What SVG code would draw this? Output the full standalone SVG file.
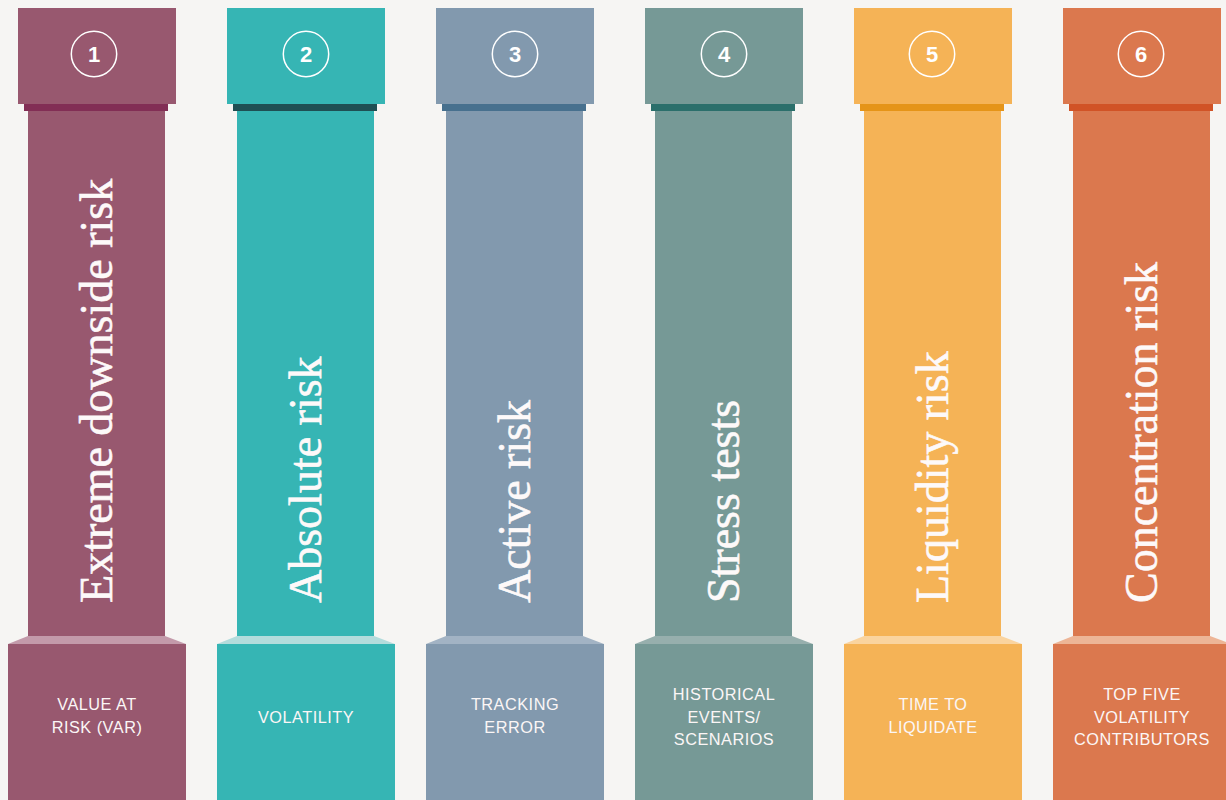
<svg xmlns="http://www.w3.org/2000/svg" width="1226" height="800" viewBox="0 0 1226 800">
  <style>
    .title { font-family: "Liberation Serif", "Times New Roman", serif; font-size: 46px; fill: #fdf9f9; stroke: #fdf9f9; stroke-width: 0.6px; }
    .num { font-family: "Liberation Sans", Arial, sans-serif; font-size: 22px; font-weight: bold; fill: #ffffff; text-anchor: middle; }
    .ring { fill: none; stroke: #ffffff; stroke-width: 1.5; }
    .label { font-family: "Liberation Sans", Arial, sans-serif; font-size: 16.3px; letter-spacing: 0.5px; fill: #fbf6f6; text-anchor: middle; }

    .main { fill: var(--main); }
    .band { fill: var(--band); }
    .ledge { fill: var(--ledge); }

    .p1 { --main: #98586f; --band: #822e55; --ledge: #c39aaa; }
    .p2 { --main: #36b5b4; --band: #1f4f53; --ledge: #b3dcdc; }
    .p3 { --main: #8299ae; --band: #47708e; --ledge: #a2b3c4; }
    .p4 { --main: #769996; --band: #2b6f6b; --ledge: #97afad; }
    .p5 { --main: #f5b356; --band: #e59418; --ledge: #fad49f; }
    .p6 { --main: #db784e; --band: #d15326; --ledge: #edb596; }
  </style>
  <defs>
    <!-- one pillar: capital, collar, shaft, sloped ledge and plinth -->
    <g id="pillar-shape">
      <rect class="main" x="18" y="8" width="158" height="96"/>
      <rect class="band" x="24" y="104" width="144" height="7"/>
      <rect class="main" x="28" y="111" width="137" height="525"/>
      <polygon class="ledge" points="28,636 165,636 186,644 8,644"/>
      <rect class="main" x="8" y="644" width="178" height="156"/>
    </g>
  </defs>

  <rect width="1226" height="800" fill="#f6f5f3"/>

  <g id="pillar-1" class="p1">
    <use href="#pillar-shape"/>
    <circle class="ring" cx="94" cy="54" r="22.7"/>
    <text class="num" x="94" y="62">1</text>
    <text class="title" transform="translate(111.5,603) rotate(-90)">Extreme downside risk</text>
    <text class="label" x="97" y="710">VALUE AT</text>
    <text class="label" x="97" y="732.5">RISK (VAR)</text>
  </g>

  <g id="pillar-2" class="p2" transform="translate(209,0)">
    <use href="#pillar-shape"/>
    <circle class="ring" cx="97" cy="54" r="22.7"/>
    <text class="num" x="97" y="62">2</text>
    <text class="title" transform="translate(111.5,603) rotate(-90)">Absolute risk</text>
    <text class="label" x="97" y="722.5">VOLATILITY</text>
  </g>

  <g id="pillar-3" class="p3" transform="translate(418,0)">
    <use href="#pillar-shape"/>
    <circle class="ring" cx="97" cy="54" r="22.7"/>
    <text class="num" x="97" y="62">3</text>
    <text class="title" transform="translate(111.5,603) rotate(-90)">Active risk</text>
    <text class="label" x="97" y="710">TRACKING</text>
    <text class="label" x="97" y="732.5">ERROR</text>
  </g>

  <g id="pillar-4" class="p4" transform="translate(627,0)">
    <use href="#pillar-shape"/>
    <circle class="ring" cx="97" cy="54" r="22.7"/>
    <text class="num" x="97" y="62">4</text>
    <text class="title" transform="translate(111.5,603) rotate(-90)">Stress tests</text>
    <text class="label" x="97" y="700">HISTORICAL</text>
    <text class="label" x="97" y="722.5">EVENTS/</text>
    <text class="label" x="97" y="745">SCENARIOS</text>
  </g>

  <g id="pillar-5" class="p5" transform="translate(836,0)">
    <use href="#pillar-shape"/>
    <circle class="ring" cx="96" cy="54" r="22.7"/>
    <text class="num" x="96" y="62">5</text>
    <text class="title" transform="translate(111.5,603) rotate(-90)">Liquidity risk</text>
    <text class="label" x="97" y="710">TIME TO</text>
    <text class="label" x="97" y="732.5">LIQUIDATE</text>
  </g>

  <g id="pillar-6" class="p6" transform="translate(1045,0)">
    <use href="#pillar-shape"/>
    <circle class="ring" cx="96" cy="54" r="22.7"/>
    <text class="num" x="96" y="62">6</text>
    <text class="title" transform="translate(111.5,603) rotate(-90)">Concentration risk</text>
    <text class="label" x="97" y="700">TOP FIVE</text>
    <text class="label" x="97" y="722.5">VOLATILITY</text>
    <text class="label" x="97" y="745">CONTRIBUTORS</text>
  </g>

  <!-- no connectors in this figure -->
  <g id="connectors"/>
</svg>
